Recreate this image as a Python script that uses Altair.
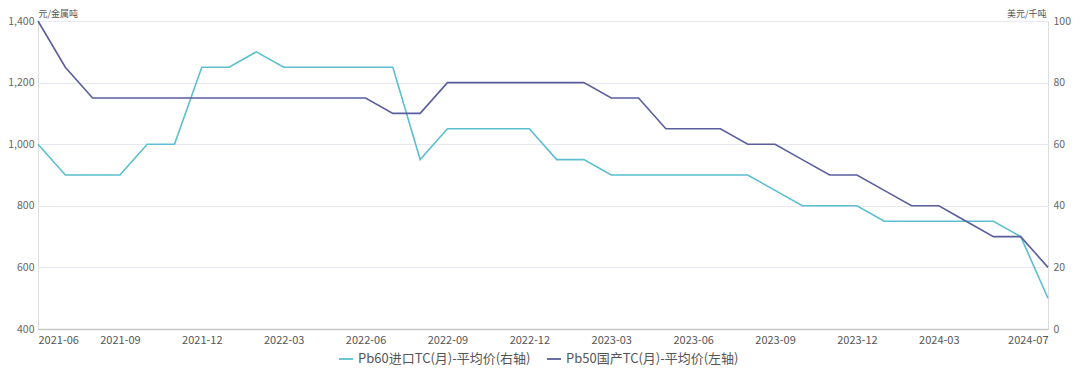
import altair as alt
import pandas as pd

months = ["2021-06", "2021-07", "2021-08", "2021-09", "2021-10", "2021-11", "2021-12",
          "2022-01", "2022-02", "2022-03", "2022-04", "2022-05", "2022-06", "2022-07",
          "2022-08", "2022-09", "2022-10", "2022-11", "2022-12", "2023-01", "2023-02",
          "2023-03", "2023-04", "2023-05", "2023-06", "2023-07", "2023-08", "2023-09",
          "2023-10", "2023-11", "2023-12", "2024-01", "2024-02", "2024-03", "2024-04",
          "2024-05", "2024-06", "2024-07"]

pb50_domestic = [1400, 1250, 1150, 1150, 1150, 1150, 1150, 1150, 1150, 1150, 1150, 1150, 1150,
                 1100, 1100, 1200, 1200, 1200, 1200, 1200, 1200, 1150, 1150, 1050, 1050, 1050,
                 1000, 1000, 950, 900, 900, 850, 800, 800, 750, 700, 700, 600]

pb60_import = [60, 50, 50, 50, 60, 60, 85, 85, 90, 85, 85, 85, 85, 85, 55, 65, 65, 65, 65, 55,
               55, 50, 50, 50, 50, 50, 50, 45, 40, 40, 40, 35, 35, 35, 35, 35, 30, 10]

tick_months = ["2021-06", "2021-09", "2021-12", "2022-03", "2022-06", "2022-09", "2022-12",
               "2023-03", "2023-06", "2023-09", "2023-12", "2024-03", "2024-07"]

name60 = "Pb60进口TC(月)-平均价(右轴)"
name50 = "Pb50国产TC(月)-平均价(左轴)"

df50 = pd.DataFrame({"month": months, "value": pb50_domestic, "series": name50})
df60 = pd.DataFrame({"month": months, "value": pb60_import, "series": name60})

FONT = "Noto Sans CJK SC"
TEAL = "#5bbfcf"
NAVY = "#5a5e9d"

x_enc = alt.X(
    "month:O",
    sort=months,
    scale=alt.Scale(type="point", padding=0),
    axis=alt.Axis(
        values=tick_months,
        title=None,
        labelAngle=0,
        labelAlign=alt.ExprRef(expr="datum.value == '2021-06' ? 'left' : (datum.value == '2024-07' ? 'right' : 'center')"),
        labelFontSize=11,
        labelColor="#555555",
        labelPadding=5,
        ticks=False,
        domainColor="#c8c8c8",
        domainWidth=1.5,
        grid=False,
    ),
)

color_enc = alt.Color(
    "series:N",
    scale=alt.Scale(domain=[name60, name50], range=[TEAL, NAVY]),
    legend=alt.Legend(
        title=None,
        orient="none",
        legendX=300,
        legendY=330,
        direction="horizontal",
        symbolType="stroke",
        symbolStrokeWidth=1.8,
        symbolSize=196,
        labelFontSize=13,
        labelColor="#555555",
        labelFont=FONT,
        labelLimit=0,
        columnPadding=12,
    ),
)

left = alt.Chart(df50).mark_line(strokeWidth=1.6).encode(
    x=x_enc,
    y=alt.Y(
        "value:Q",
        scale=alt.Scale(domain=[400, 1400], nice=False, zero=False),
        axis=alt.Axis(
            orient="left",
            values=[400, 600, 800, 1000, 1200, 1400],
            format=",.0f",
            title="元/金属吨",
            titleAngle=0,
            titleX=0,
            titleY=-8,
            titleAlign="left",
            titleBaseline="middle",
            titleFontSize=9,
            titleFontWeight="normal",
            titleColor="#555555",
            titleFont=FONT,
            labelFontSize=10.5,
            labelColor="#666666",
            labelPadding=4,
            ticks=False,
            domain=False,
            grid=True,
            gridColor="#e8e8f0",
            gridWidth=1,
        ),
    ),
    color=color_enc,
)

right = alt.Chart(df60).mark_line(strokeWidth=1.6).encode(
    x=x_enc,
    y=alt.Y(
        "value:Q",
        scale=alt.Scale(domain=[0, 100], nice=False),
        axis=alt.Axis(
            orient="right",
            values=[0, 20, 40, 60, 80, 100],
            format=".0f",
            title="美元/千吨",
            titleAngle=0,
            titleX=-2,
            titleY=-8,
            titleAlign="right",
            titleBaseline="middle",
            titleFontSize=9,
            titleFontWeight="normal",
            titleColor="#555555",
            titleFont=FONT,
            labelFontSize=10.5,
            labelColor="#666666",
            labelPadding=5,
            ticks=False,
            domain=False,
            grid=False,
        ),
    ),
    color=color_enc,
)

chart = alt.layer(right, left).resolve_scale(y="independent").properties(
    width=1010,
    height=308,
    autosize=alt.AutoSizeParams(type="none"),
    padding={"left": 30, "top": 13, "right": 24, "bottom": 37},
).configure_view(stroke=None).configure(font=FONT)

chart.save("out.html", embed_options={"renderer": "svg", "actions": False})
